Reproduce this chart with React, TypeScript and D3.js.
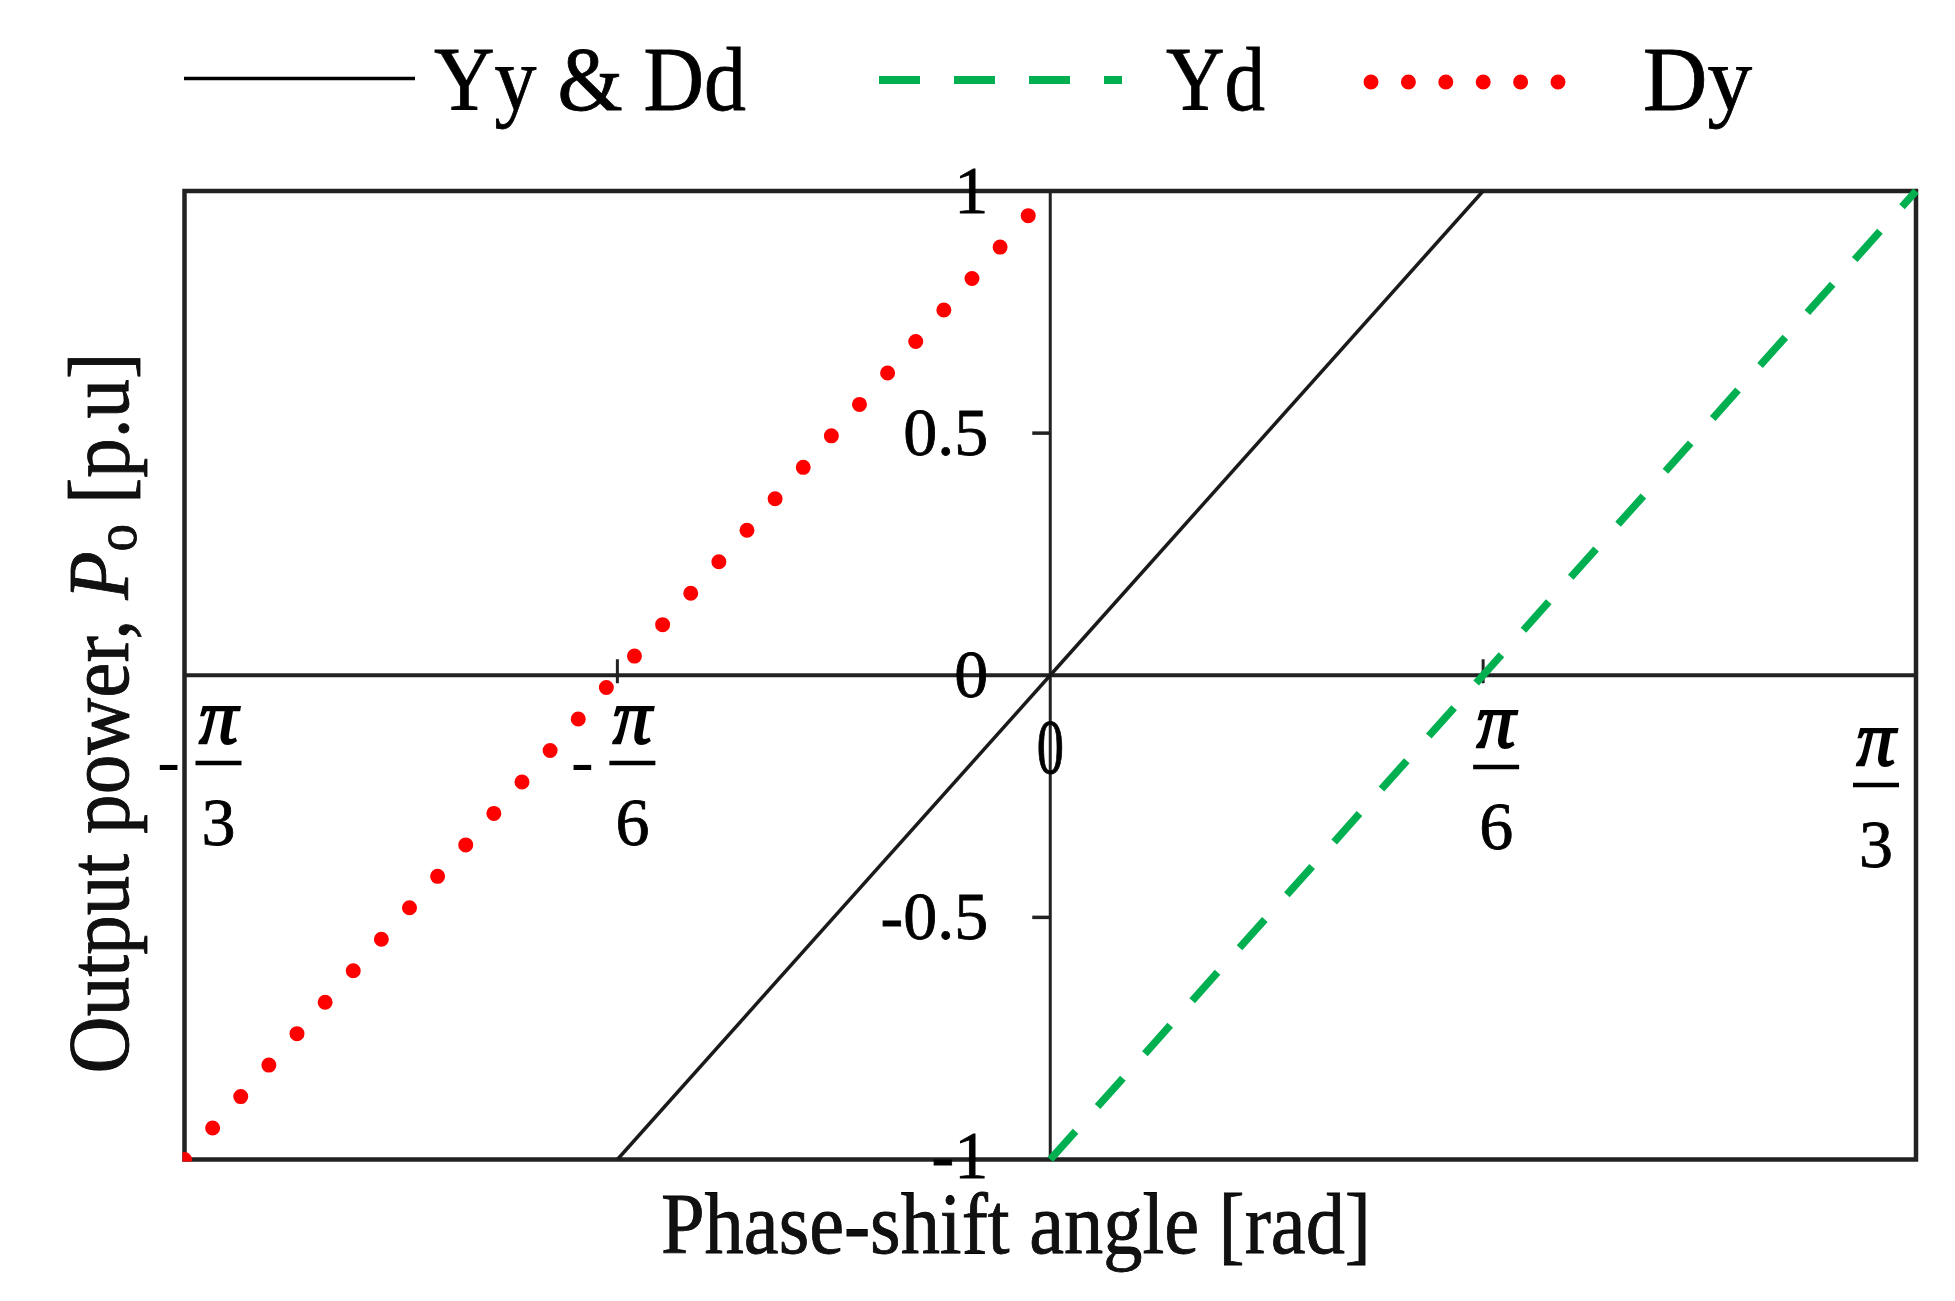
import React from "react";
import * as d3 from "d3";

// ---- data ----
const phaseTicks = [-Math.PI / 3, -Math.PI / 6, 0, Math.PI / 6, Math.PI / 3];
const phaseTickSign = ["-", "-", "", "", ""];
const phaseTickNum = ["π", "π", "0", "π", "π"];
const phaseTickDen = ["3", "6", "", "6", "3"];

const powerTicks = [-1, -0.5, 0, 0.5, 1];
const powerTickLabels = ["-1", "-0.5", "0", "0.5", "1"];

const yyDdPhase = [-Math.PI / 6, 0, Math.PI / 6];
const yyDdPower = [-1, 0, 1];
const ydPhase = [0, Math.PI / 6, Math.PI / 3];
const ydPower = [-1, 0, 1];
const dyPhase = [-Math.PI / 3, -Math.PI / 6, 0];
const dyPower = [-1, 0, 1];

const legendNames = ["Yy & Dd", "Yd", "Dy"];

// ---- layout ----
const W = 1955;
const H = 1301;
const M = { left: 184.5, right: 1916, top: 191, bottom: 1159.5 };
const FONT = "'Liberation Serif', 'Times New Roman', serif";
// per-tick label offsets (x from tick, y of fraction bar)
const fracDx = [34, 15, 0, 13, -40];
const fracBarY = [763, 763, 0, 767, 785];

export default function App() {
  const x = d3.scaleLinear().domain([-Math.PI / 3, Math.PI / 3]).range([M.left, M.right]);
  const y = d3.scaleLinear().domain([-1, 1]).range([M.bottom, M.top]);
  const line = d3
    .line<[number, number]>()
    .x((d) => x(d[0]))
    .y((d) => y(d[1]));

  const yyDd = line(yyDdPhase.map((p, i) => [p, yyDdPower[i]] as [number, number])) || "";
  const yd = line(ydPhase.map((p, i) => [p, ydPower[i]] as [number, number])) || "";
  const dy = line(dyPhase.map((p, i) => [p, dyPower[i]] as [number, number])) || "";

  const x0 = x(0);
  const y0 = y(0);
  const tickFont = 68;
  const heavy = { stroke: "#000", strokeWidth: 0.8 };

  return (
    <svg
      width={W}
      height={H}
      viewBox={`0 0 ${W} ${H}`}
      style={{ position: "absolute", left: 0, top: 0, background: "#fff" }}
      fontFamily={FONT}
    >
      <defs>
        <clipPath id="plotClip">
          <rect x={M.left - 2} y={M.top - 2} width={M.right - M.left + 4} height={M.bottom - M.top + 4} />
        </clipPath>
      </defs>

      {/* Legend */}
      <g>
        <line x1={184} x2={415} y1={78.5} y2={78.5} stroke="#000" strokeWidth={3.5} />
        <text x={434} y={110} fontSize={90} textLength={312} lengthAdjust="spacingAndGlyphs" fill="#000" {...heavy}>
          {legendNames[0]}
        </text>
        <line
          x1={879}
          x2={1122}
          y1={80}
          y2={80}
          stroke="#00b050"
          strokeWidth={8}
          strokeDasharray="41 34"
        />
        <text x={1166} y={110} fontSize={90} textLength={99} lengthAdjust="spacingAndGlyphs" fill="#000" {...heavy}>
          {legendNames[1]}
        </text>
        <line
          x1={1371}
          x2={1560}
          y1={82}
          y2={82}
          stroke="#ff0000"
          strokeWidth={15}
          strokeLinecap="round"
          strokeDasharray="0 37.4"
        />
        <text x={1643} y={110} fontSize={90} textLength={109} lengthAdjust="spacingAndGlyphs" fill="#000" {...heavy}>
          {legendNames[2]}
        </text>
      </g>

      {/* Frame */}
      <rect
        x={M.left}
        y={M.top}
        width={M.right - M.left}
        height={M.bottom - M.top}
        fill="none"
        stroke="#222"
        strokeWidth={4.5}
      />
      {/* zero axes */}
      <line x1={M.left} x2={M.right} y1={y0} y2={y0} stroke="#222" strokeWidth={4} />
      <line x1={x0} x2={x0} y1={M.top} y2={M.bottom} stroke="#222" strokeWidth={3} />

      {/* y ticks on zero axis */}
      {powerTicks
        .filter((v) => Math.abs(v) === 0.5)
        .map((v) => (
          <line key={"yt" + v} x1={x0 - 18} x2={x0} y1={y(v)} y2={y(v)} stroke="#222" strokeWidth={3.5} />
        ))}
      {/* x ticks on zero axis */}
      {phaseTicks
        .filter((v, i) => i === 1 || i === 3)
        .map((v) => (
          <line key={"xt" + v} x1={x(v)} x2={x(v)} y1={y0 - 16} y2={y0 + 8} stroke="#222" strokeWidth={3} />
        ))}

      {/* y tick labels */}
      {powerTicks.map((v, i) => (
        <text
          key={"yl" + v}
          x={x0 - 62}
          y={y(v) + (v === -1 ? 18 : 22)}
          fontSize={tickFont}
          textAnchor="end"
          fill="#000"
          {...heavy}
        >
          {powerTickLabels[i]}
        </text>
      ))}

      {/* x tick labels */}
      {phaseTicks.map((v, i) => {
        const cx = x(v) + fracDx[i];
        if (phaseTickDen[i] === "") {
          return (
            <text
              key={"xl" + i}
              x={cx}
              y={y0 + 98}
              fontSize={tickFont}
              textAnchor="middle"
              fill="#000"
              transform={`translate(${cx},${y0 + 98}) scale(0.8,1.15) translate(${-cx},${-(y0 + 98)})`}
              {...heavy}
            >
              {phaseTickNum[i]}
            </text>
          );
        }
        const by = fracBarY[i];
        return (
          <g key={"xl" + i}>
            {phaseTickSign[i] && (
              <text x={cx - 50} y={by + 20} fontSize={tickFont} textAnchor="middle" fill="#000">
                {phaseTickSign[i]}
              </text>
            )}
            <text
              x={cx}
              y={by - 20}
              fontSize={78}
              fontStyle="italic"
              textAnchor="middle"
              fill="#000"
              stroke="#000"
              strokeWidth={2}
            >
              {phaseTickNum[i]}
            </text>
            <line x1={cx - 23} x2={cx + 23} y1={by} y2={by} stroke="#000" strokeWidth={4.5} />
            <text x={cx} y={by + 82} fontSize={tickFont} textAnchor="middle" fill="#000" {...heavy}>
              {phaseTickDen[i]}
            </text>
          </g>
        );
      })}

      {/* data */}
      <g clipPath="url(#plotClip)">
        <path d={yyDd} fill="none" stroke="#1a1a1a" strokeWidth={3.5} />
        <path d={yd} fill="none" stroke="#00b050" strokeWidth={7.5} strokeDasharray="38 33" />
        <path
          d={dy}
          fill="none"
          stroke="#ff0000"
          strokeWidth={15}
          strokeLinecap="round"
          strokeDasharray="0 42.2"
        />
      </g>

      {/* axis titles */}
      <text
        x={1016}
        y={1253}
        fontSize={86}
        textAnchor="middle"
        textLength={710}
        lengthAdjust="spacingAndGlyphs"
        fill="#111"
        {...heavy}
      >
        Phase-shift angle [rad]
      </text>
      <g transform={`translate(128, 713) rotate(-90) scale(0.92, 1)`}>
        <text x={0} y={0} fontSize={86} textAnchor="middle" fill="#111" {...heavy}>
          <tspan>{"Output power, "}</tspan>
          <tspan fontStyle="italic">{"P"}</tspan>
          <tspan fontSize={60} dy={8}>{"o"}</tspan>
          <tspan dy={-8}>{" [p.u"}</tspan>
          <tspan>{"]"}</tspan>
        </text>
      </g>
    </svg>
  );
}
